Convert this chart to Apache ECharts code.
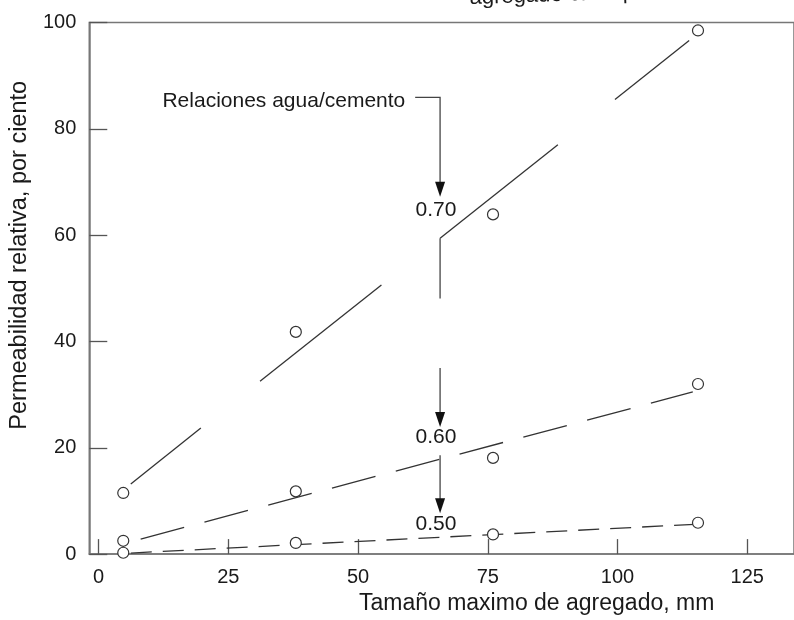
<!DOCTYPE html>
<html lang="es">
<head>
    <meta charset="UTF-8">
    <title>Permeabilidad relativa</title>
    <script src="https://cdn.jsdelivr.net/npm/echarts@6/dist/echarts.min.js"></script>
    <style>
        html, body { margin: 0; padding: 0; background: #fff; }
        #main { width: 794px; height: 620px; }
    </style>
</head>
<body>
<div id="main"></div>
<script>
    // tamaño máximo de agregado (mm) y permeabilidad relativa (%)
    const sizes = [4.75, 38, 76, 115.5];
    const perm070 = [11.5, 41.8, 63.9, 98.5];
    const perm060 = [2.5, 11.8, 18.1, 32];
    const perm050 = [0.25, 2.1, 3.7, 5.9];

    // rectas ajustadas
    const fit070 = [
        [[6.2, 13.2], [19.7, 23.7]],
        [[31.1, 32.5], [54.5, 50.6]],
        [[65.8, 59.4], [88.5, 77.0]],
        [[99.5, 85.5], [113.8, 96.6]]
    ];
    const fit060 = [[6.8, 2.5], [114.5, 30.5]];
    const fit050 = [[6.2, 0.2], [114.8, 5.6]];

    const xTicks = [0, 25, 50, 75, 100, 125];

    // flechas y rotulos
    const leaderText = 'Relaciones agua/cemento';
    const leaderAt = [12.3, 85.2];
    const shafts = [
        [[61.0, 85.9], [65.8, 85.9], [65.8, 69]],
        [[65.8, 59.4], [65.8, 48.1]],
        [[65.8, 35.0], [65.8, 25.5]],
        [[65.8, 18.6], [65.8, 9.2]]
    ];
    const arrowTips = [[65.8, 67.2], [65.8, 23.9], [65.8, 7.7]];
    const ratioNames = ['0.70', '0.60', '0.50'];
    const ratioAt = [[65.0, 64.7], [65.0, 22.0], [65.0, 5.6]];

    const font = '"Liberation Sans", Arial, sans-serif';
    const ink = '#1a1a1a';
    const lineColor = '#333';

    const chart = echarts.init(document.getElementById('main'));

    const series = [];
    fit070.forEach(function (p) {
        series.push({
            type: 'line', data: p, symbol: 'none', silent: true,
            lineStyle: { color: lineColor, width: 1.3 }
        });
    });
    series.push({
        type: 'line', data: fit060, symbol: 'none', silent: true,
        lineStyle: { color: lineColor, width: 1.3, type: [45, 21], dashOffset: -7 }
    });
    series.push({
        type: 'line', data: fit050, symbol: 'none', silent: true,
        lineStyle: { color: lineColor, width: 1.3, type: [21, 11] }
    });
    series.push({
        type: 'lines', coordinateSystem: 'cartesian2d', polyline: true, silent: true,
        symbol: 'none',
        lineStyle: { color: '#444', width: 1.3, opacity: 1 },
        data: shafts.map(function (c) { return { coords: c }; })
    });
    series.push({
        type: 'scatter', silent: true,
        symbol: 'path://M0,0 L10,0 L5,15 Z',
        symbolSize: [10, 15], symbolOffset: [0, '-50%'],
        itemStyle: { color: '#111', opacity: 1 },
        data: arrowTips
    });
    [perm070, perm060, perm050].forEach(function (vals) {
        series.push({
            type: 'scatter', silent: true, symbol: 'circle', symbolSize: 11,
            itemStyle: { color: '#fff', borderColor: '#333', borderWidth: 1.2, opacity: 1 },
            data: sizes.map(function (s, i) { return [s, vals[i]]; }),
            z: 5
        });
    });
    series.push({
        type: 'scatter', silent: true, symbolSize: 0,
        itemStyle: { opacity: 1 },
        label: {
            show: true, position: 'inside', color: ink, fontSize: 21, fontFamily: font,
            formatter: function (p) { return p.name; }
        },
        data: ratioAt.map(function (c, i) { return { name: ratioNames[i], value: c }; }),
        z: 6
    });
    series.push({
        type: 'scatter', silent: true, symbolSize: 0,
        itemStyle: { opacity: 1 },
        label: {
            show: true, position: 'right', distance: 0, color: ink, fontSize: 21, fontFamily: font,
            formatter: leaderText
        },
        data: [leaderAt]
    });

    chart.setOption({
        animation: false,
        backgroundColor: '#fff',
        grid: {
            left: 83, right: -2, top: 22.5, bottom: 65.5,
            show: true, borderColor: '#777', borderWidth: 1.5, backgroundColor: 'transparent'
        },
        graphic: [{
            type: 'text', x: 470, y: 9, rotation: 0.035,
            style: {
                text: 'agregado en la permeabilidad', fill: ink,
                font: '22px "Liberation Sans", Arial, sans-serif',
                verticalAlign: 'bottom'
            }
        }],
        xAxis: {
            type: 'value', min: -1.8, max: 134,
            name: 'Tamaño maximo de agregado, mm', nameLocation: 'middle', nameGap: 36,
            nameTextStyle: { color: ink, fontSize: 23, fontFamily: font, padding: [0, 0, 0, 190] },
            axisLine: { onZero: false, lineStyle: { color: '#777', width: 1.5 } },
            axisTick: { inside: true, length: 15, customValues: xTicks, lineStyle: { color: '#555', width: 1.3 } },
            axisLabel: { customValues: xTicks, color: ink, fontSize: 20, fontFamily: font, margin: 13 },
            splitLine: { show: false }
        },
        yAxis: {
            type: 'value', min: 0, max: 100, interval: 20,
            name: 'Permeabilidad relativa, por ciento', nameLocation: 'middle', nameGap: 46,
            nameTextStyle: { color: ink, fontSize: 23.5, fontFamily: font, padding: [0, 0, 0, 66] },
            axisLine: { onZero: false, lineStyle: { color: '#777', width: 1.5 } },
            axisTick: { inside: true, length: 18, lineStyle: { color: '#555', width: 1.3 } },
            axisLabel: { color: ink, fontSize: 20, fontFamily: font, margin: 13 },
            splitLine: { show: false }
        },
        series: series
    });
</script>
</body>
</html>
